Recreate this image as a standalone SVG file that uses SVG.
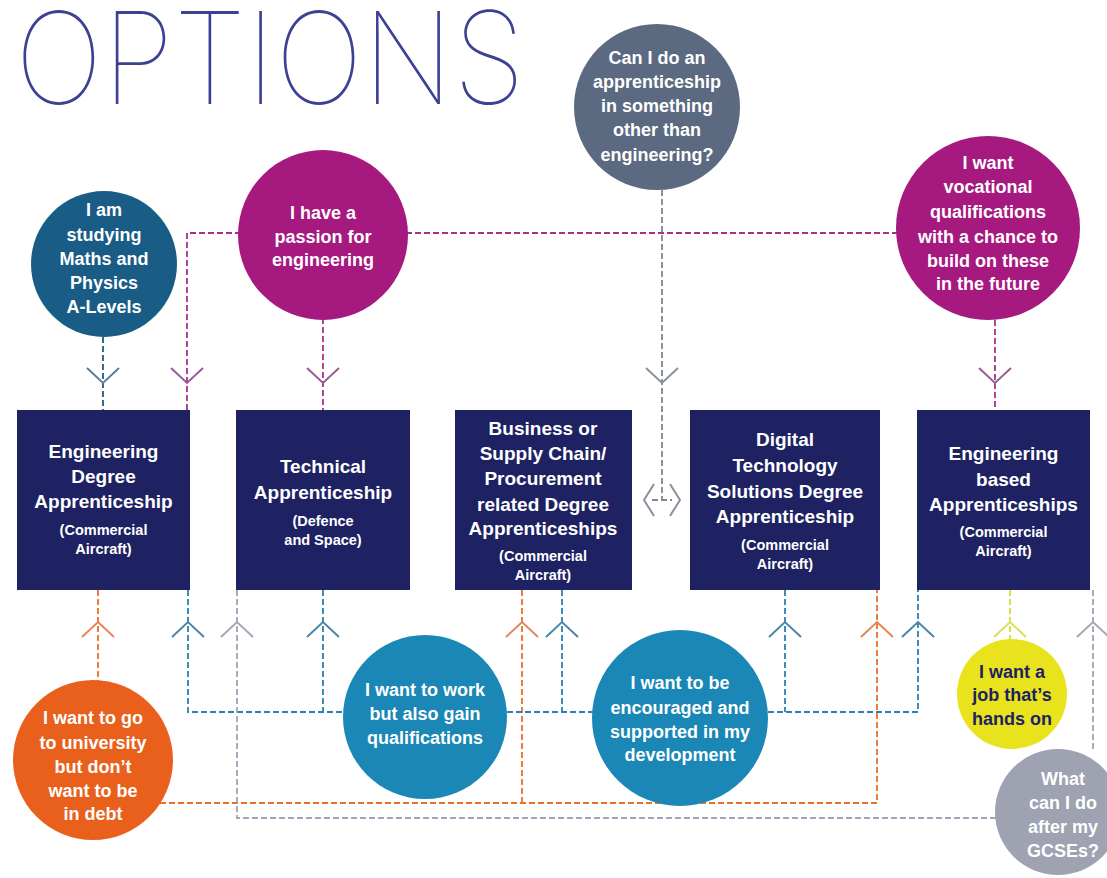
<svg xmlns="http://www.w3.org/2000/svg" width="1107" height="878" viewBox="0 0 1107 878">
<defs>
<style>
.c{font-family:"Liberation Sans",Arial,sans-serif;font-weight:bold;font-size:18px;fill:#fff;text-anchor:middle}
.b{font-family:"Liberation Sans",Arial,sans-serif;font-weight:bold;font-size:19px;fill:#fff;text-anchor:middle}
.s{font-family:"Liberation Sans",Arial,sans-serif;font-weight:bold;font-size:14.5px;fill:#fff;text-anchor:middle}
.box{fill:#1e2263}
.ln{fill:none;stroke-width:1.8;stroke-dasharray:6 3}
.ch{fill:none;stroke-width:2}
</style>
<path id="cd" d="M-16,-15 L0,0 L16,-15"/>
<path id="cu" d="M-16,15 L0,0 L16,15"/>
</defs>
<rect width="1107" height="878" fill="#fff"/>
<text x="15" y="104" font-family="Inter,'Noto Sans',sans-serif" font-weight="100" font-size="128" fill="#3d4192" textLength="510" lengthAdjust="spacingAndGlyphs">OPTIONS</text>

<g id="connectors">
<g class="ln" stroke="#a8308c">
<path d="M187,410 V233 H240 M406,233 H905"/>
<path d="M323,318 V410"/>
<path d="M995,320 V410"/>
</g>
<path class="ln" stroke="#1a5e86" d="M103,337 V410"/>
<path class="ln" stroke="#7d8796" d="M662,190 V500 M652,500 H672"/>
<g class="ln" stroke="#e8702a">
<path d="M98,590 V682"/>
<path d="M160,803 H877 V590 M522,590 V803"/>
</g>
<g class="ln" stroke="#2a80b0">
<path d="M188,590 V712 H918 V590"/>
<path d="M323,590 V712 M562,590 V712 M785,590 V712"/>
</g>
<g class="ln" stroke="#a0a4b6">
<path d="M237,590 V818 H1000"/>
<path d="M1093,590 V750"/>
</g>
<path class="ln" stroke="#d4dc3a" d="M1010,590 V640"/>
<g class="ch">
<use href="#cd" x="103" y="383" stroke="#5a7d98"/>
<use href="#cd" x="187" y="383" stroke="#9a5a92"/>
<use href="#cd" x="323" y="383" stroke="#9a5a92"/>
<use href="#cd" x="662" y="383" stroke="#8a909c"/>
<use href="#cd" x="995" y="383" stroke="#9a5a92"/>
<path d="M654,484 L644,500 L654,516 M670,484 L680,500 L670,516" stroke="#8a909c"/>
<use href="#cu" x="98" y="622" stroke="#e8845a"/>
<use href="#cu" x="522" y="622" stroke="#e8845a"/>
<use href="#cu" x="877" y="622" stroke="#e8845a"/>
<use href="#cu" x="188" y="622" stroke="#4a86aa"/>
<use href="#cu" x="323" y="622" stroke="#4a86aa"/>
<use href="#cu" x="562" y="622" stroke="#4a86aa"/>
<use href="#cu" x="785" y="622" stroke="#4a86aa"/>
<use href="#cu" x="918" y="622" stroke="#4a86aa"/>
<use href="#cu" x="237" y="622" stroke="#a4a8b6"/>
<use href="#cu" x="1093" y="622" stroke="#a4a8b6"/>
<use href="#cu" x="1010" y="622" stroke="#d8e05a"/>
</g>
</g>

<g id="box1"><rect class="box" x="17" y="410" width="173" height="180"/>
<text class="b" x="103.5" y="458">Engineering</text><text class="b" x="103.5" y="483">Degree</text><text class="b" x="103.5" y="508">Apprenticeship</text>
<text class="s" x="103.5" y="535">(Commercial</text><text class="s" x="103.5" y="554">Aircraft)</text></g>
<g id="box2"><rect class="box" x="236" y="410" width="174" height="180"/>
<text class="b" x="323" y="473">Technical</text><text class="b" x="323" y="499">Apprenticeship</text>
<text class="s" x="323" y="526">(Defence</text><text class="s" x="323" y="545">and Space)</text></g>
<g id="box3"><rect class="box" x="455" y="410" width="177" height="180"/>
<text class="b" x="543" y="435">Business or</text><text class="b" x="543" y="460">Supply Chain/</text><text class="b" x="543" y="485">Procurement</text><text class="b" x="543" y="511">related Degree</text><text class="b" x="543" y="535">Apprenticeships</text>
<text class="s" x="543" y="561">(Commercial</text><text class="s" x="543" y="580">Aircraft)</text></g>
<g id="box4"><rect class="box" x="690" y="410" width="190" height="180"/>
<text class="b" x="785" y="446">Digital</text><text class="b" x="785" y="472">Technology</text><text class="b" x="785" y="498">Solutions Degree</text><text class="b" x="785" y="523">Apprenticeship</text>
<text class="s" x="785" y="550">(Commercial</text><text class="s" x="785" y="569">Aircraft)</text></g>
<g id="box5"><rect class="box" x="917" y="410" width="173" height="180"/>
<text class="b" x="1003.5" y="460">Engineering</text><text class="b" x="1003.5" y="486">based</text><text class="b" x="1003.5" y="511">Apprenticeships</text>
<text class="s" x="1003.5" y="537">(Commercial</text><text class="s" x="1003.5" y="556">Aircraft)</text></g>

<g id="q-other"><circle cx="657" cy="107" r="83" fill="#5b6a80"/>
<text class="c" x="657" y="64">Can I do an</text><text class="c" x="657" y="88">apprenticeship</text><text class="c" x="657" y="112">in something</text><text class="c" x="657" y="136">other than</text><text class="c" x="657" y="161">engineering?</text></g>
<g id="q-alevels"><circle cx="104" cy="264" r="73" fill="#195c86"/>
<text class="c" x="104" y="216">I am</text><text class="c" x="104" y="241">studying</text><text class="c" x="104" y="265">Maths and</text><text class="c" x="104" y="289">Physics</text><text class="c" x="104" y="313">A-Levels</text></g>
<g id="q-passion"><circle cx="323" cy="235" r="85" fill="#a61a80"/>
<text class="c" x="323" y="219">I have a</text><text class="c" x="323" y="243">passion for</text><text class="c" x="323" y="266">engineering</text></g>
<g id="q-vocational"><circle cx="988" cy="228" r="92" fill="#a61a80"/>
<text class="c" x="988" y="169">I want</text><text class="c" x="988" y="193">vocational</text><text class="c" x="988" y="218">qualifications</text><text class="c" x="988" y="243">with a chance to</text><text class="c" x="988" y="267">build on these</text><text class="c" x="988" y="290">in the future</text></g>
<g id="q-university"><circle cx="93" cy="760" r="80" fill="#e9601d"/>
<text class="c" x="93" y="724">I want to go</text><text class="c" x="93" y="749">to university</text><text class="c" x="93" y="773">but don’t</text><text class="c" x="93" y="797">want to be</text><text class="c" x="93" y="820">in debt</text></g>
<g id="q-work"><circle cx="425" cy="717" r="82" fill="#1a87b6"/>
<text class="c" x="425" y="696">I want to work</text><text class="c" x="425" y="720">but also gain</text><text class="c" x="425" y="744">qualifications</text></g>
<g id="q-support"><circle cx="680" cy="718" r="88" fill="#1a87b6"/>
<text class="c" x="680" y="689">I want to be</text><text class="c" x="680" y="714">encouraged and</text><text class="c" x="680" y="738">supported in my</text><text class="c" x="680" y="761">development</text></g>
<g id="q-hands"><circle cx="1012" cy="694" r="55" fill="#e9e31e"/>
<text class="c" x="1012" y="678" style="fill:#1e2263">I want a</text><text class="c" x="1012" y="701" style="fill:#1e2263">job that’s</text><text class="c" x="1012" y="725" style="fill:#1e2263">hands on</text></g>
<g id="q-gcse"><circle cx="1058" cy="812" r="63" fill="#9ea2b1"/>
<text class="c" x="1063" y="785">What</text><text class="c" x="1063" y="809">can I do</text><text class="c" x="1063" y="833">after my</text><text class="c" x="1063" y="857">GCSEs?</text></g>
</svg>
